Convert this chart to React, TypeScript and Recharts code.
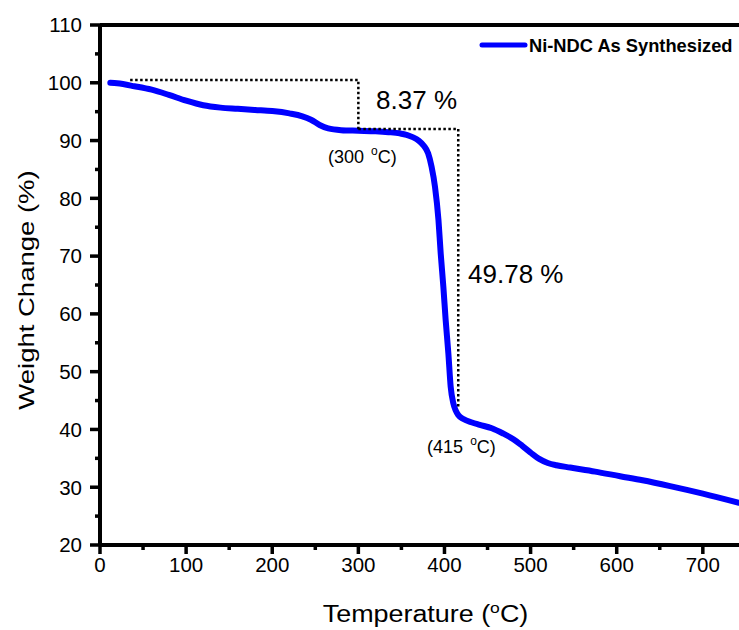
import { LineChart, Line, XAxis, YAxis, ReferenceLine, ReferenceDot, Legend } from "recharts";

// TGA curve
const temperature = [
  12, 20, 40, 60, 80, 100, 120, 140, 160, 180, 200, 220, 235, 245, 255, 265, 280, 300, 320, 335,
  348, 356, 363, 370, 376, 381, 385, 389, 393, 395.6, 398.7, 401.4, 404.5, 407.2, 410.3, 413, 416,
  422, 432, 441, 455, 468, 480, 490, 500, 510, 520, 530, 546, 575, 604, 630, 662, 700, 742,
];
const weight = [
  100.0, 99.9, 99.4, 98.8, 97.9, 96.9, 96.1, 95.7, 95.5, 95.3, 95.1, 94.7, 94.2, 93.6, 92.7, 92.1,
  91.8, 91.7, 91.6, 91.45, 91.25, 91.0, 90.6, 90.0, 89.1, 87.8, 85.5, 82.0, 76.3, 70.5, 64.7, 58.9,
  53.2, 47.4, 44.5, 43.3, 42.5, 41.8, 41.2, 40.8, 40.2, 39.3, 38.3, 37.2, 36.0, 34.9, 34.2, 33.8,
  33.4, 32.7, 31.9, 31.2, 30.2, 28.9, 27.3,
];

// dotted brackets marking the two weight-loss steps
const step1Temp = [35, 300, 300];
const step1Weight = [100.5, 100.5, 91.6];
const step2Temp = [300, 416, 416];
const step2Weight = [92.0, 92.0, 43.8];

const xTicks = [0, 50, 100, 150, 200, 250, 300, 350, 400, 450, 500, 550, 600, 650, 700];
const yTicks = [20, 25, 30, 35, 40, 45, 50, 55, 60, 65, 70, 75, 80, 85, 90, 95, 100, 105, 110];

const seriesName = "Ni-NDC As Synthesized";

const toPoints = (ts: number[], ws: number[]) => ts.map((t, i) => ({ t, w: ws[i] }));
const curve = toPoints(temperature, weight);
const step1 = toPoints(step1Temp, step1Weight);
const step2 = toPoints(step2Temp, step2Weight);

const FONT = "'Liberation Sans', Arial, sans-serif";
const BLUE = "#0000ff";
const FRAME = 4;

const YTick = (props: any) => {
  const { x, y, payload } = props;
  const v = payload.value;
  const major = v % 10 === 0;
  const ax = x + 18; // tickSize + tickMargin
  return (
    <g>
      <rect x={ax - (major ? 10 : 5)} y={y - 1.75} width={major ? 10 : 5} height={3.5} fill="#000" />
      {major && (
        <text x={x} y={y} dy="0.36em" textAnchor="end" fontSize={20.5} fontFamily={FONT} fill="#000">
          {v}
        </text>
      )}
    </g>
  );
};

const XTick = (props: any) => {
  const { x, y, payload } = props;
  const v = payload.value;
  const major = v % 100 === 0;
  const ay = y - 12;
  return (
    <g>
      <rect x={x - 1.75} y={ay} width={3.5} height={major ? 9 : 5} fill="#000" />
      {major && (
        <text x={x} y={y} dy="0.72em" textAnchor="middle" fontSize={20.5} fontFamily={FONT} fill="#000">
          {v}
        </text>
      )}
    </g>
  );
};

const XTitle = (props: any) => {
  const vb = props.viewBox;
  const cx = vb.x + vb.width / 2 + 6;
  const by = vb.y + 77;
  return (
    <text transform={`translate(${cx},${by}) scale(1.17,1)`} textAnchor="middle" fontSize={23} fontFamily={FONT} fill="#000">
      Temperature (<tspan dy={-9} fontSize={15}>o</tspan>
      <tspan dy={9}>C)</tspan>
    </text>
  );
};

const YTitle = (props: any) => {
  const vb = props.viewBox;
  return (
    <text
      transform={`translate(33.5,${vb.y + vb.height / 2 + 5}) rotate(-90) scale(1.25,1)`}
      textAnchor="middle"
      fontSize={22}
      fontFamily={FONT}
      fill="#000"
    >
      Weight Change (%)
    </text>
  );
};

const LegendContent = (props: any) => {
  const item = (props.payload || [])[0];
  return (
    <svg width={263} height={30}>
      <line x1={6} x2={49} y1={15} y2={15} stroke={item?.color || BLUE} strokeWidth={5} strokeLinecap="round" />
      <text x={53} y={15} dy="0.36em" fontWeight="bold" fontSize={18.3} fontFamily={FONT} fill="#000">
        {item?.value || seriesName}
      </text>
    </svg>
  );
};

const note = (text: string, size: number) => (p: any) => (
  <text x={p.cx} y={p.cy} fontSize={size} fontFamily={FONT} fill="#000">
    {text}
  </text>
);

const tempNote = (value: string) => (p: any) => (
  <text x={p.cx} y={p.cy} fontSize={18} fontFamily={FONT} fill="#000">
    ({value} <tspan dx={2} dy={-8} fontSize={12}>o</tspan>
    <tspan dy={8}>C)</tspan>
  </text>
);

export default function App() {
  return (
    <div style={{ position: "absolute", left: 0, top: 0 }}>
      <LineChart width={739} height={630} margin={{ top: 25, right: 0, bottom: 0, left: 0 }}>
        <XAxis
          dataKey="t"
          type="number"
          domain={[0, 742]}
          ticks={xTicks}
          interval={0}
          allowDataOverflow
          height={85}
          tickSize={9}
          tickMargin={3}
          tickLine={false}
          tick={<XTick />}
          axisLine={false}
          label={{ content: XTitle }}
        />
        <YAxis
          dataKey="w"
          type="number"
          domain={[20, 110]}
          ticks={yTicks}
          interval={0}
          allowDataOverflow
          width={100}
          tickSize={10}
          tickMargin={8}
          tickLine={false}
          tick={<YTick />}
          axisLine={false}
          label={{ content: YTitle }}
        />
        {/* plot frame: left, bottom, top */}
        <ReferenceLine x={0} stroke="#000" strokeWidth={FRAME} ifOverflow="visible" />
        <ReferenceLine y={20} stroke="#000" strokeWidth={FRAME} ifOverflow="visible" />
        <ReferenceLine y={110} stroke="#000" strokeWidth={FRAME} ifOverflow="visible" />
        <Line
          data={curve}
          dataKey="w"
          name={seriesName}
          type="monotone"
          stroke={BLUE}
          strokeWidth={6}
          strokeLinejoin="round"
          strokeLinecap="round"
          dot={false}
          activeDot={false}
          isAnimationActive={false}
        />
        <Line
          data={step1}
          dataKey="w"
          type="linear"
          stroke="#000"
          strokeWidth={2.5}
          strokeDasharray="2.5 2.5"
          dot={false}
          activeDot={false}
          legendType="none"
          isAnimationActive={false}
        />
        <Line
          data={step2}
          dataKey="w"
          type="linear"
          stroke="#000"
          strokeWidth={2.5}
          strokeDasharray="2.5 2.5"
          dot={false}
          activeDot={false}
          legendType="none"
          isAnimationActive={false}
        />
        <ReferenceDot x={320.6} y={95.46} r={0} shape={note("8.37 %", 26)} />
        <ReferenceDot x={427.4} y={65.35} r={0} shape={note("49.78 %", 26)} />
        <ReferenceDot x={264.8} y={86.2} r={0} shape={tempNote("300")} />
        <ReferenceDot x={379.8} y={35.9} r={0} shape={tempNote("415")} />
        <Legend
          layout="vertical"
          align="center"
          verticalAlign="middle"
          content={LegendContent}
          wrapperStyle={{ top: 30, left: 476, width: 263, height: 30 }}
        />
      </LineChart>
    </div>
  );
}
